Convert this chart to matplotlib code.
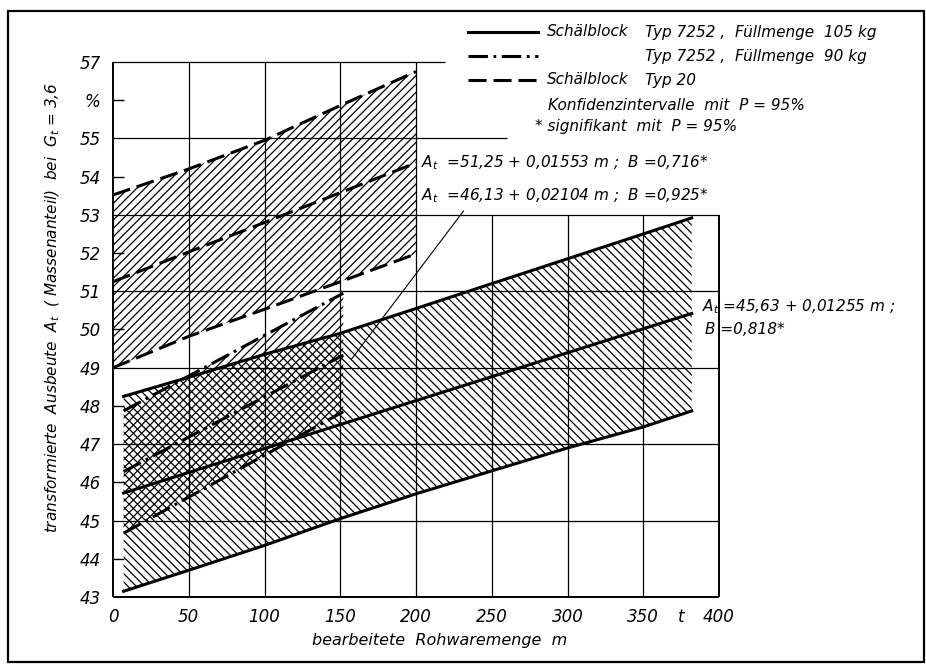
import matplotlib
matplotlib.use('Agg')
import matplotlib.pyplot as plt
from matplotlib.lines import Line2D
from matplotlib.patches import Rectangle

plt.rcParams['font.family'] = ['DejaVu Sans']
plt.rcParams['font.style'] = 'italic'
plt.rcParams['mathtext.default'] = 'it'
plt.rcParams['hatch.linewidth'] = 0.9
plt.rcParams['lines.scale_dashes'] = False

# Schälblock Typ 7252, 105 kg (solid) - Konfidenzintervall
x_solid = [7, 50, 100, 150, 200, 250, 300, 350, 382]
up_solid = [48.25, 48.75, 49.35, 49.9, 50.55, 51.2, 51.85, 52.5, 52.92]
lo_solid = [43.15, 43.7, 44.35, 45.05, 45.7, 46.3, 46.9, 47.45, 47.87]
xc_solid = [7, 382]
yc_solid = [45.72, 50.42]

# Typ 7252, 90 kg (dash-dot)
x_dd = [7, 152]
up_dd = [47.87, 50.95]
yc_dd = [46.28, 49.33]
lo_dd = [44.67, 47.85]

# Schälblock Typ 20 (dashed)
x_t20 = [0, 50, 100, 150, 200]
up_t20 = [53.52, 54.2, 54.95, 55.86, 56.75]
yc_t20 = [51.25, 52.03, 52.8, 53.58, 54.36]
lo_t20 = [49.0, 49.82, 50.53, 51.25, 51.98]

xticks = [0, 50, 100, 150, 200, 250, 300, 350, 375, 400]
xticklabels = ['0', '50', '100', '150', '200', '250', '300', '350', 't', '400']
yticks = list(range(43, 58))
yticklabels = [str(v) if v != 56 else '%' for v in yticks]

W, H = 926, 664
def px(x, y):
    return x / W, 1 - y / H

fig = plt.figure(figsize=(W / 100, H / 100), dpi=100)
ax = fig.add_axes([113 / W, 67 / H, 606 / W, 535 / H])
ax.set_xlim(0, 400)
ax.set_ylim(43, 57)
for s in ax.spines.values():
    s.set_visible(False)

# grid (technical drawing style, partial)
gk = dict(color='black', lw=0.9, zorder=1, clip_on=False)
ax.vlines([50, 100, 150, 200], 43, 57, **gk)
ax.vlines([250, 300, 350], 43, 53, **gk)
ax.hlines([45, 47, 49, 51, 53], 0, 400, **gk)
ax.hlines(55, 0, 260, **gk)
ax.hlines(57, 0, 219, **gk)
ak = dict(color='black', lw=1.4, zorder=2, clip_on=False)
ax.vlines(0, 43, 57, **ak)
ax.vlines(400, 43, 53, **ak)
ax.hlines(43, 0, 400, **ak)
ax.hlines([44, 46, 48, 50, 52, 54, 56], 0, 7, color='black', lw=1.0)

# hatched confidence bands
ax.fill_between(x_t20, lo_t20, up_t20, facecolor='none', edgecolor='black', hatch='////', lw=0)
ax.fill_between(x_dd, lo_dd, up_dd, facecolor='none', edgecolor='black', hatch='////', lw=0)
ax.fill_between(x_solid, lo_solid, up_solid, facecolor='none', edgecolor='black', hatch='\\\\\\\\', lw=0)

lw = 2.2
dash = (0, (13, 5))
dashdot = (0, (14, 4, 2, 4))
for yy in (up_solid, lo_solid):
    ax.plot(x_solid, yy, color='black', lw=lw, zorder=3)
ax.plot(xc_solid, yc_solid, color='black', lw=lw, zorder=3)
for yy in (up_dd, yc_dd, lo_dd):
    ax.plot(x_dd, yy, color='black', lw=lw, ls=dashdot, zorder=3)
for yy in (up_t20, yc_t20, lo_t20):
    ax.plot(x_t20, yy, color='black', lw=lw, ls=dash, zorder=3)

ax.set_xticks(xticks)
ax.set_xticklabels(xticklabels, fontsize=12)
ax.set_yticks(yticks)
ax.set_yticklabels(yticklabels, fontsize=12)
ax.tick_params(length=0)
ax.tick_params(axis='x', pad=8)
ax.tick_params(axis='y', pad=9)

ax.set_xlabel('bearbeitete  Rohwaremenge  m', fontsize=11.5)
ax.xaxis.set_label_coords((440 - 113) / 606, -0.068)
ax.set_ylabel(r'transformierte  Ausbeute  $A_t$  ( Massenanteil)  bei  $G_t$ = 3,6', fontsize=11)
ax.yaxis.set_label_coords(-0.084, 0.54)

# annotations
fs = 11
ax.text(203, 54.36, r'$A_t$  =51,25 + 0,01553 m ;  B =0,716*', fontsize=fs, va='center')
ax.text(203, 53.5, r'$A_t$  =46,13 + 0,02104 m ;  B =0,925*', fontsize=fs, va='center')
ax.annotate('', xy=(156, 49.15), xytext=(232.5, 53.16),
            arrowprops=dict(arrowstyle='-', lw=0.8, color='black'))
ax.text(389, 50.6, r'$A_t$ =45,63 + 0,01255 m ;', fontsize=fs, va='center', clip_on=False)
ax.text(391, 50.0, 'B =0,818*', fontsize=fs, va='center', clip_on=False)

# legend drawn as in the original drawing
rows = [(32, '-', 'Schälblock', 'Typ 7252 ,  Füllmenge  105 kg'),
        (56, dashdot, '', 'Typ 7252 ,  Füllmenge  90 kg'),
        (80, dash, 'Schälblock', 'Typ 20')]
for y, ls, t1, t2 in rows:
    x0, yy = px(468, y)
    x1, _ = px(538, y)
    fig.add_artist(Line2D([x0, x1], [yy, yy], color='black', lw=lw, ls=ls))
    if t1:
        fig.text(*px(547, y), t1, fontsize=fs, va='center')
    fig.text(*px(645, y), t2, fontsize=fs, va='center')
fig.text(*px(548, 106), 'Konfidenzintervalle  mit  P = 95%', fontsize=fs, va='center')
fig.text(*px(535, 127), '* signifikant  mit  P = 95%', fontsize=fs, va='center')

# outer frame
fig.add_artist(Rectangle(px(8, 662), (924 - 8) / W, (662 - 11) / H, transform=fig.transFigure,
                         fill=False, lw=1.6, edgecolor='black'))

fig.savefig('out.png', dpi=100)
